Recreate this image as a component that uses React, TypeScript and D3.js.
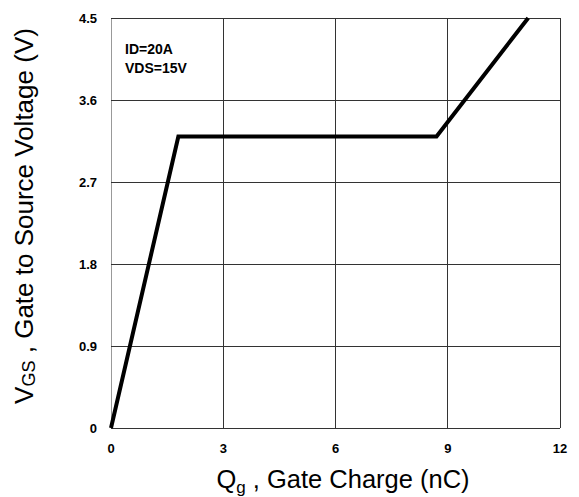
import React from 'react';
import * as d3 from 'd3';

// gate charge curve (nC, V)
const chargeNC = [0, 1.8, 8.7, 11.15];
const gateVolts = [0, 3.2, 3.2, 4.5];
const xTicks = [0, 3, 6, 9, 12];
const yTicks = [0, 0.9, 1.8, 2.7, 3.6, 4.5];
const notes = ['ID=20A', 'VDS=15V'];

const App = () => {
  const width = 579;
  const height = 497;
  const margin = { top: 18, right: 19, bottom: 69, left: 111 };
  const innerW = width - margin.left - margin.right;
  const innerH = height - margin.top - margin.bottom;

  const x = d3.scaleLinear().domain([0, 12]).range([0, innerW]);
  const y = d3.scaleLinear().domain([0, 4.5]).range([innerH, 0]);

  const points: [number, number][] = chargeNC.map((q, i) => [q, gateVolts[i]]);
  const line = d3.line<[number, number]>()
    .x(d => x(d[0]))
    .y(d => y(d[1]));

  const family = 'Arial, "Liberation Sans", sans-serif';
  const tickFont = { fontFamily: family, fontWeight: 700, fontSize: 13 };

  return (
    <svg width={width} height={height} style={{ position: 'absolute', left: 0, top: 0, background: '#fff' }}>
      <g transform={`translate(${margin.left},${margin.top})`}>
        {/* grid */}
        {xTicks.map(t => (
          <line key={'gx' + t} x1={x(t)} x2={x(t)} y1={0} y2={innerH}
            stroke={t === 0 ? '#999' : '#333'} strokeWidth={1} shapeRendering="crispEdges" />
        ))}
        {yTicks.map(t => (
          <line key={'gy' + t} x1={0} x2={innerW} y1={y(t)} y2={y(t)}
            stroke="#333" strokeWidth={1} shapeRendering="crispEdges" />
        ))}

        {/* tick labels */}
        {yTicks.map(t => (
          <text key={'ty' + t} x={-14} y={y(t)} dy="0.35em" textAnchor="end" style={tickFont}>
            {t === 0 ? '0' : t.toFixed(1)}
          </text>
        ))}
        {xTicks.map(t => (
          <text key={'tx' + t} x={x(t)} y={innerH + 25} textAnchor="middle" style={tickFont}>
            {t}
          </text>
        ))}

        {/* curve */}
        <path d={line(points) || ''} fill="none" stroke="#000" strokeWidth={4} strokeLinejoin="miter" />

        {/* notes */}
        {notes.map((n, i) => (
          <text key={n} x={14} y={36 + i * 19} style={{ ...tickFont, fontSize: 14 }}>{n}</text>
        ))}
      </g>

      {/* axis titles */}
      <text x={343} y={488} textAnchor="middle"
        style={{ fontFamily: family, fontSize: 25.5 }}>
        Q<tspan fontSize={17} dy={5}>g</tspan><tspan dy={-5}> , Gate Charge (nC)</tspan>
      </text>
      <text transform={`translate(33,216) rotate(-90)`} textAnchor="middle"
        style={{ fontFamily: family, fontSize: 26 }}>
        V<tspan fontSize={18} dy={2}>GS</tspan><tspan dy={-2}> , Gate to Source Voltage (V)</tspan>
      </text>
    </svg>
  );
};

export default App;
